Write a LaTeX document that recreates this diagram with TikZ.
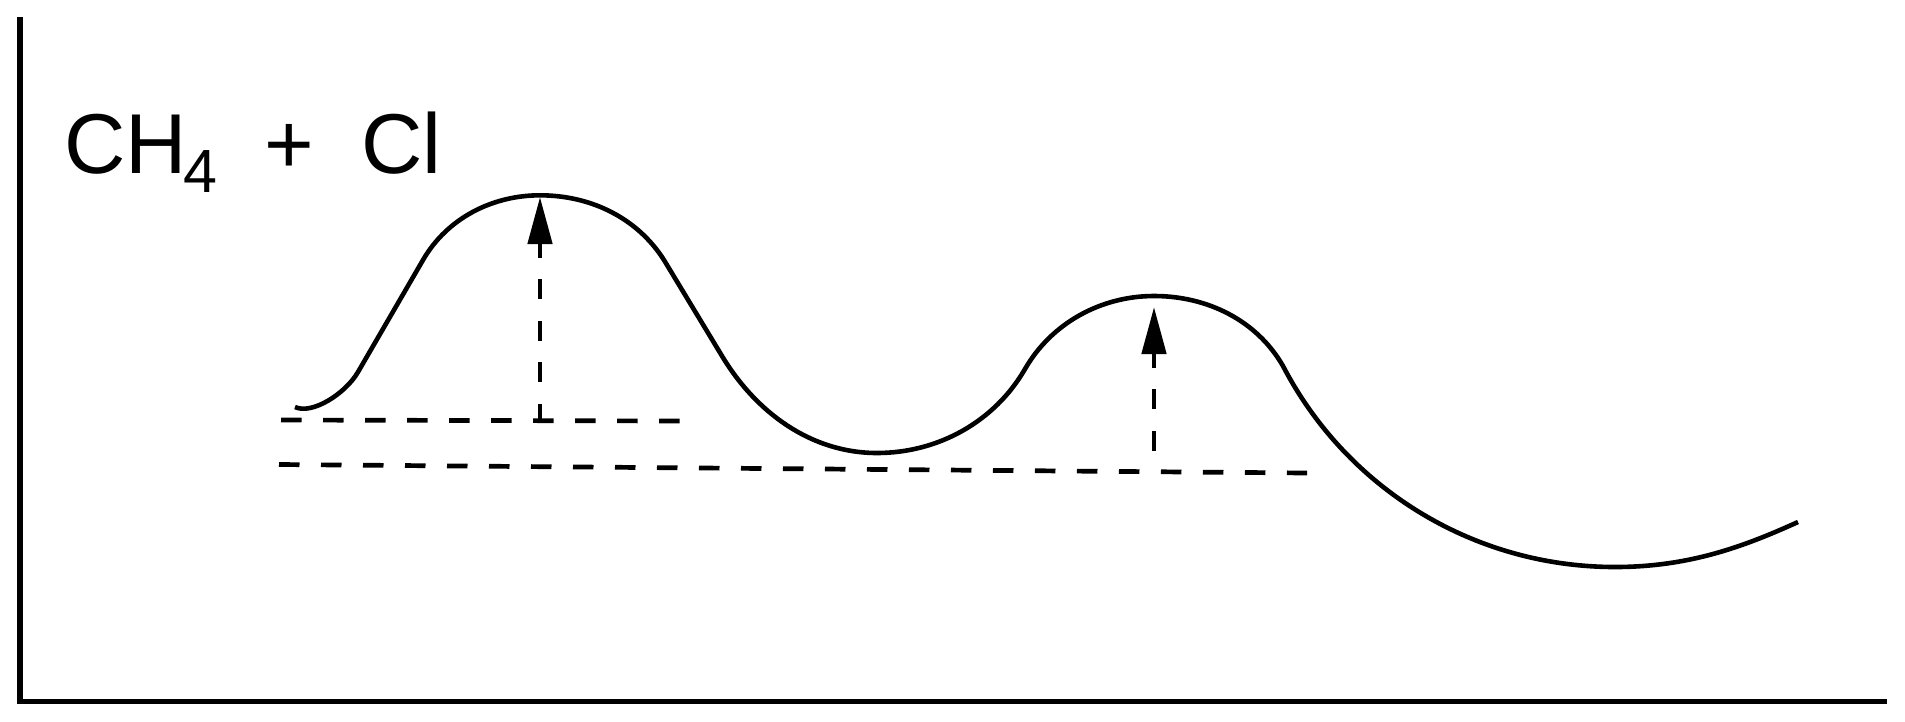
\documentclass[tikz,border=0pt]{standalone}
\usepackage{fontspec}
\setmainfont{Liberation Sans}
\usetikzlibrary{arrows.meta}
\tikzset{
  axisline/.style={line width=5.3pt, line cap=butt, line join=miter},
  curve/.style={line width=4.6pt, line join=round},
  levelline/.style={line width=4.7pt, dash pattern=on 20.5pt off 21.5pt},
  gaparrow/.style={line width=4.7pt, dash pattern=on 20pt off 21.5pt, dash phase=5pt,
    {Triangle[length=47pt,width=24pt]}-},
  bigtxt/.style={inner sep=0pt, anchor=base west, font=\fontsize{85}{100}\selectfont},
  subtxt/.style={inner sep=0pt, anchor=base west, font=\fontsize{61}{72}\selectfont}
}
\begin{document}
\begin{tikzpicture}[x=1pt, y=-1pt]
\useasboundingbox (0,0) rectangle (1905,721);
% axes
\coordinate (ytop) at (20,17);
\coordinate (origin) at (20,701.5);
\coordinate (xend) at (1887,701.5);
\draw[axisline] (ytop) -- (origin) -- (xend);
% label
\node[bigtxt] (ch) at (64,173) {CH};
\node[subtxt] (four) at (183,192) {4};
\node[bigtxt] (plus) at (264,173) {+};
\node[bigtxt] (cl) at (361,173) {Cl};
% energy profile
\draw[curve] (295,407) .. controls (312,415) and (345.5,393.6) .. (358,372)
  -- (423,260)
  .. controls (447,218.4) and (492,195.3) .. (540,195.3)
  .. controls (592.5,195.3) and (640.75,219.5) .. (667,265)
  -- (722,356)
  .. controls (756,412.5) and (811,453) .. (877,453)
  .. controls (938,453) and (994.5,421.8) .. (1025,369)
  .. controls (1051.5,323) and (1101,296) .. (1154,296)
  .. controls (1207,296) and (1256.5,320) .. (1283,366)
  .. controls (1347,489) and (1474,567) .. (1615,567)
  .. controls (1690,567) and (1745,546) .. (1798,522);
% reference levels
\coordinate (l1a) at (281,420);
\coordinate (l1b) at (681,421);
\coordinate (l2a) at (279,464.5);
\coordinate (l2b) at (1307,473);
\draw[levelline] (l1a) -- (l1b);
\draw[levelline] (l2a) -- (l2b);
% activation energy arrows
\coordinate (t1) at (540,197);
\coordinate (b1) at (540,420);
\coordinate (t2) at (1154,307);
\coordinate (b2) at (1154,452);
\draw[gaparrow] (t1) -- (b1);
\draw[gaparrow] (t2) -- (b2);
\end{tikzpicture}
\end{document}
